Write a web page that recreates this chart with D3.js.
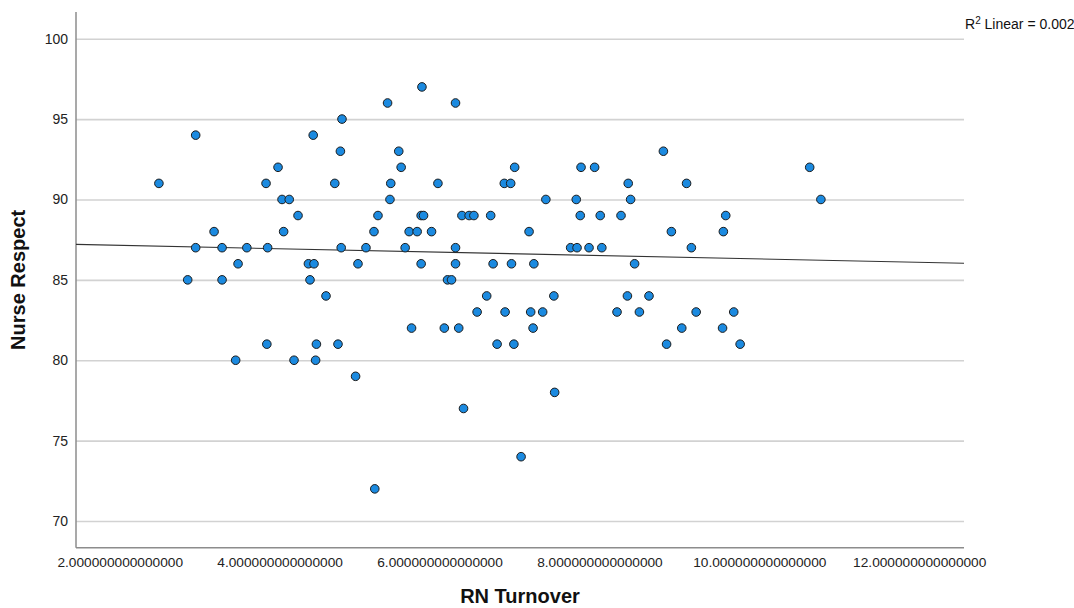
<!DOCTYPE html>
<html>
<head>
<meta charset="utf-8">
<script src="https://cdn.jsdelivr.net/npm/d3@7"></script>
<style>
  html, body { margin: 0; padding: 0; background: #fff; }
  svg { display: block; font-family: "Liberation Sans", Arial, sans-serif; }
</style>
</head>
<body>
<svg id="chart" width="1074" height="608"></svg>
<script>
// RN turnover (x) and nurse respect score (y) for each unit
const turnover = [
  2.49, 2.95, 2.85, 2.95, 3.18, 3.28, 3.28, 3.48, 3.45, 3.59,
  3.83, 3.98, 4.03, 4.12, 4.05, 4.23, 3.85, 3.84, 4.18, 4.36,
  4.43, 4.38, 4.42, 4.46, 4.45, 4.58, 4.69, 4.76, 4.78, 4.77,
  4.73, 4.95, 4.98, 5.08, 5.18, 5.23, 5.19, 5.35, 5.39, 5.38,
  5.49, 5.52, 5.57, 5.62, 5.65, 5.72, 5.77, 5.80, 5.77, 5.78,
  5.90, 5.98, 6.06, 6.10, 6.15, 6.20, 6.20, 6.20, 6.24, 6.28,
  6.30, 6.37, 6.43, 6.47, 6.59, 6.64, 6.67, 6.72, 6.82, 6.81,
  6.89, 6.90, 6.93, 6.94, 7.02, 7.12, 7.14, 7.17, 7.18, 7.29,
  7.33, 7.43, 7.44, 7.64, 7.71, 7.72, 7.76, 7.77, 7.87, 7.94,
  8.01, 8.03, 8.22, 8.27, 8.35, 8.36, 8.39, 8.44, 8.50, 8.62,
  8.80, 8.84, 8.90, 9.03, 9.09, 9.15, 9.21, 9.54, 9.55, 9.58,
  9.68, 9.76, 10.63, 10.77
];
const respect = [
  91, 94, 85, 87, 88, 87, 85, 86, 80, 87,
  91, 92, 90, 90, 88, 89, 87, 81, 80, 86,
  86, 85, 94, 81, 80, 84, 91, 93, 95, 87,
  81, 79, 86, 87, 88, 89, 72, 96, 91, 90,
  93, 92, 87, 88, 82, 88, 89, 89, 86, 97,
  88, 91, 82, 85, 85, 96, 87, 86, 82, 89,
  77, 89, 89, 83, 84, 89, 86, 81, 83, 91,
  91, 86, 81, 92, 74, 88, 83, 82, 86, 83,
  90, 84, 78, 87, 90, 87, 89, 92, 87, 92,
  89, 87, 83, 89, 84, 91, 90, 86, 83, 84,
  93, 81, 88, 82, 91, 87, 83, 82, 88, 89,
  83, 81, 92, 90
];

// axis ticks
const xTicks = [2, 4, 6, 8, 10, 12];
const yTicks = [70, 75, 80, 85, 90, 95, 100];

// reported linear fit: respect = fitIntercept + fitSlope * turnover
const fitIntercept = 87.36;
const fitSlope = -0.106;
const fitR2 = 0.002;

const points = turnover.map((t, i) => ({ x: t, y: respect[i] }));

const svg = d3.select("#chart");
const plotLeft = 76, plotRight = 964, plotTop = 12, plotBottom = 547.7;

const x = d3.scaleLinear().domain([1.453, 12.56]).range([plotLeft, plotRight]);
const y = d3.scaleLinear().domain([68.34, 101.66]).range([plotBottom, plotTop]);

// horizontal gridlines
const grid = svg.append("g")
  .attr("transform", `translate(${plotLeft},0)`)
  .call(d3.axisLeft(y).tickValues(yTicks).tickSize(-(plotRight - plotLeft)).tickFormat(""));
grid.select(".domain").remove();
grid.selectAll("line").attr("stroke", "#d2d2d2").attr("stroke-width", 1.6);

// y axis labels
const yAxis = svg.append("g")
  .attr("transform", `translate(${plotLeft},0)`)
  .call(d3.axisLeft(y).tickValues(yTicks).tickSize(0).tickPadding(8));
yAxis.select(".domain").remove();
yAxis.selectAll("text")
  .attr("font-size", 14).attr("fill", "#222")
  .attr("font-family", "Liberation Sans, Arial, sans-serif");

// x axis labels
const xAxis = svg.append("g")
  .attr("transform", `translate(0,${plotBottom})`)
  .call(d3.axisBottom(x).tickValues(xTicks).tickSize(0).tickPadding(10)
    .tickFormat(d3.format(".15f")));
xAxis.select(".domain").remove();
xAxis.selectAll("text")
  .attr("font-size", 13.7).attr("fill", "#222")
  .attr("font-family", "Liberation Sans, Arial, sans-serif");

// axis lines
svg.append("line")
  .attr("x1", plotLeft).attr("x2", plotLeft).attr("y1", plotTop).attr("y2", plotBottom)
  .attr("stroke", "#8c8c8c").attr("stroke-width", 1.5);
svg.append("line")
  .attr("x1", plotLeft).attr("x2", plotRight).attr("y1", plotBottom).attr("y2", plotBottom)
  .attr("stroke", "#8c8c8c").attr("stroke-width", 1.5);

// fit line across the whole x range
const [x0, x1] = x.domain();
svg.append("line")
  .attr("x1", x(x0)).attr("y1", y(fitIntercept + fitSlope * x0))
  .attr("x2", x(x1)).attr("y2", y(fitIntercept + fitSlope * x1))
  .attr("stroke", "#333").attr("stroke-width", 1.1);

// points
svg.append("g")
  .selectAll("circle")
  .data(points)
  .join("circle")
  .attr("cx", d => x(d.x))
  .attr("cy", d => y(d.y))
  .attr("r", 4.3)
  .attr("fill", "#1b8ae0")
  .attr("stroke", "#1c1c1c")
  .attr("stroke-width", 1);

// R² annotation
const r2Text = svg.append("text")
  .attr("x", 965).attr("y", 29)
  .attr("font-size", 14).attr("fill", "#111");
r2Text.append("tspan").text("R");
r2Text.append("tspan").attr("dy", -5).attr("font-size", 10).text("2");
r2Text.append("tspan").attr("dy", 5).text(" Linear = " + d3.format(".3f")(fitR2));

// axis titles
svg.append("text")
  .attr("x", (plotLeft + plotRight) / 2).attr("y", 603)
  .attr("text-anchor", "middle")
  .attr("font-size", 20).attr("font-weight", "bold").attr("fill", "#111")
  .text("RN Turnover");
svg.append("text")
  .attr("transform", `translate(25,${(plotTop + plotBottom) / 2}) rotate(-90)`)
  .attr("text-anchor", "middle")
  .attr("font-size", 20).attr("font-weight", "bold").attr("fill", "#111")
  .text("Nurse Respect");
</script>
</body>
</html>
